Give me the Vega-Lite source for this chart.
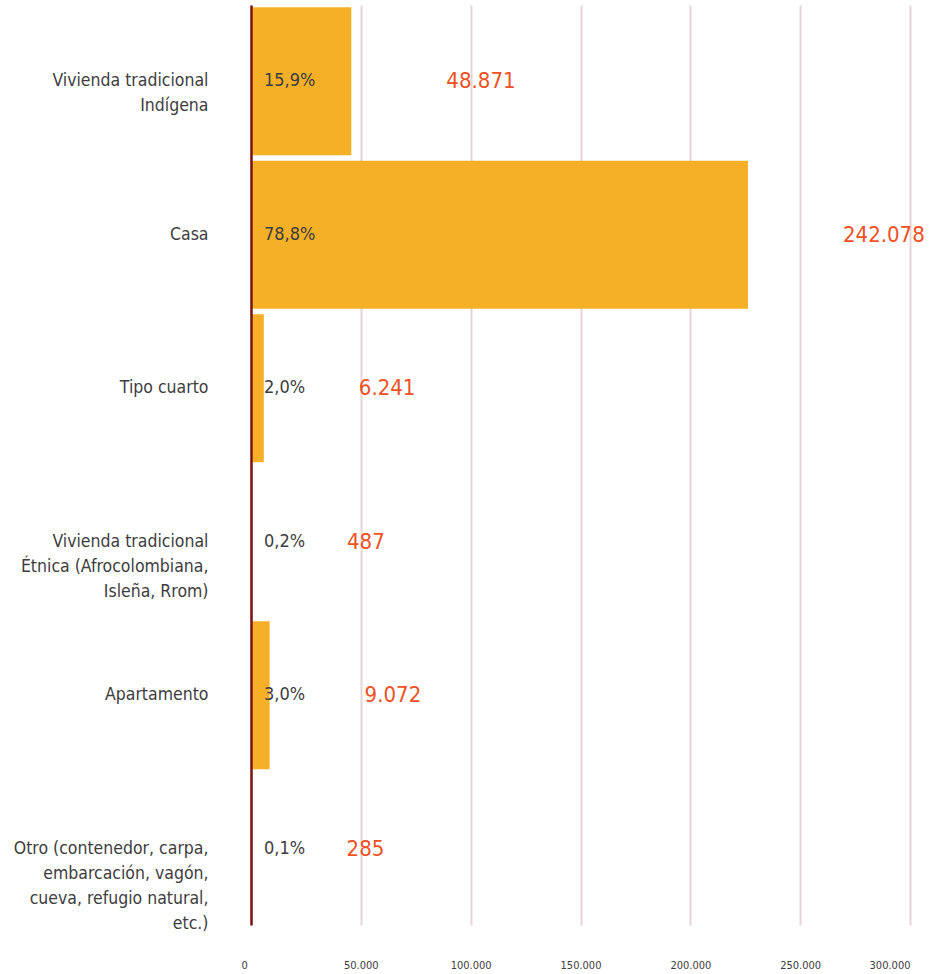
{
  "$schema": "https://vega.github.io/schema/vega-lite/v6.json",
  "width": 659,
  "height": 920,
  "autosize": {"type": "none"},
  "padding": {"left": 251, "top": 5, "right": 28, "bottom": 49},
  "background": "white",
  "config": {
    "view": {"stroke": null},
    "locale": {"number": {"decimal": ",", "thousands": ".", "grouping": [3], "currency": ["", " €"]}},
    "font": "DejaVu Sans Condensed, Liberation Sans Narrow, sans-serif"
  },
  "data": {
    "values": [
      {"tipo": "Vivienda tradicional|Indígena", "viviendas": 48871, "pct": 0.159},
      {"tipo": "Casa", "viviendas": 242078, "pct": 0.788},
      {"tipo": "Tipo cuarto", "viviendas": 6241, "pct": 0.020},
      {"tipo": "Vivienda tradicional|Étnica (Afrocolombiana, |Isleña, Rrom)", "viviendas": 487, "pct": 0.002},
      {"tipo": "Apartamento", "viviendas": 9072, "pct": 0.030},
      {"tipo": "Otro (contenedor, carpa,|embarcación, vagón, |cueva, refugio natural,|etc.)", "viviendas": 285, "pct": 0.001}
    ]
  },
  "encoding": {
    "y": {
      "field": "tipo",
      "type": "nominal",
      "sort": null,
      "scale": {"paddingInner": 0.036, "paddingOuter": 0.015},
      "axis": {
        "title": null,
        "labelExpr": "split(datum.value, '|')",
        "labelLineHeight": 25,
        "labelFontSize": 17.5,
        "labelColor": "#3d3d3d",
        "labelPadding": 43,
        "labelLimit": 260,
        "ticks": false,
        "domain": true,
        "domainColor": "#7a1414",
        "domainWidth": 2.5,
        "grid": false,
        "zindex": 2
      }
    }
  },
  "layer": [
    {
      "mark": {"type": "bar", "color": "#f5b027"},
      "encoding": {
        "x": {
          "field": "viviendas",
          "type": "quantitative",
          "scale": {"domain": [0, 321000], "nice": false},
          "axis": null
        }
      }
    },
    {
      "mark": {"type": "text", "align": "left", "baseline": "middle", "dx": 95, "fontSize": 22, "color": "#ee5124"},
      "encoding": {
        "x": {
          "field": "viviendas",
          "type": "quantitative",
          "scale": {"domain": [0, 321000], "nice": false},
          "axis": null
        },
        "text": {"field": "viviendas", "type": "quantitative", "format": ",d"}
      }
    },
    {
      "mark": {"type": "text", "align": "left", "baseline": "middle", "dx": 13, "fontSize": 18, "color": "#3d3d3d"},
      "encoding": {
        "x": {
          "datum": 0,
          "type": "quantitative",
          "scale": {"domain": [0, 300000], "nice": false},
          "axis": {
            "orient": "bottom",
            "title": null,
            "values": [0, 50000, 100000, 150000, 200000, 250000, 300000],
            "format": ",d",
            "grid": true,
            "gridColor": "#e7d4d7",
            "gridWidth": 2,
            "ticks": false,
            "domain": false,
            "labelPadding": 34,
            "labelFontSize": 11,
            "labelColor": "#3d3d3d",
            "labelOffset": {"condition": {"test": "datum.value === 0", "value": -10}, "value": 0},
            "zindex": 0
          }
        },
        "text": {"field": "pct", "type": "quantitative", "format": ".1%"}
      }
    }
  ],
  "resolve": {"scale": {"x": "independent"}}
}
